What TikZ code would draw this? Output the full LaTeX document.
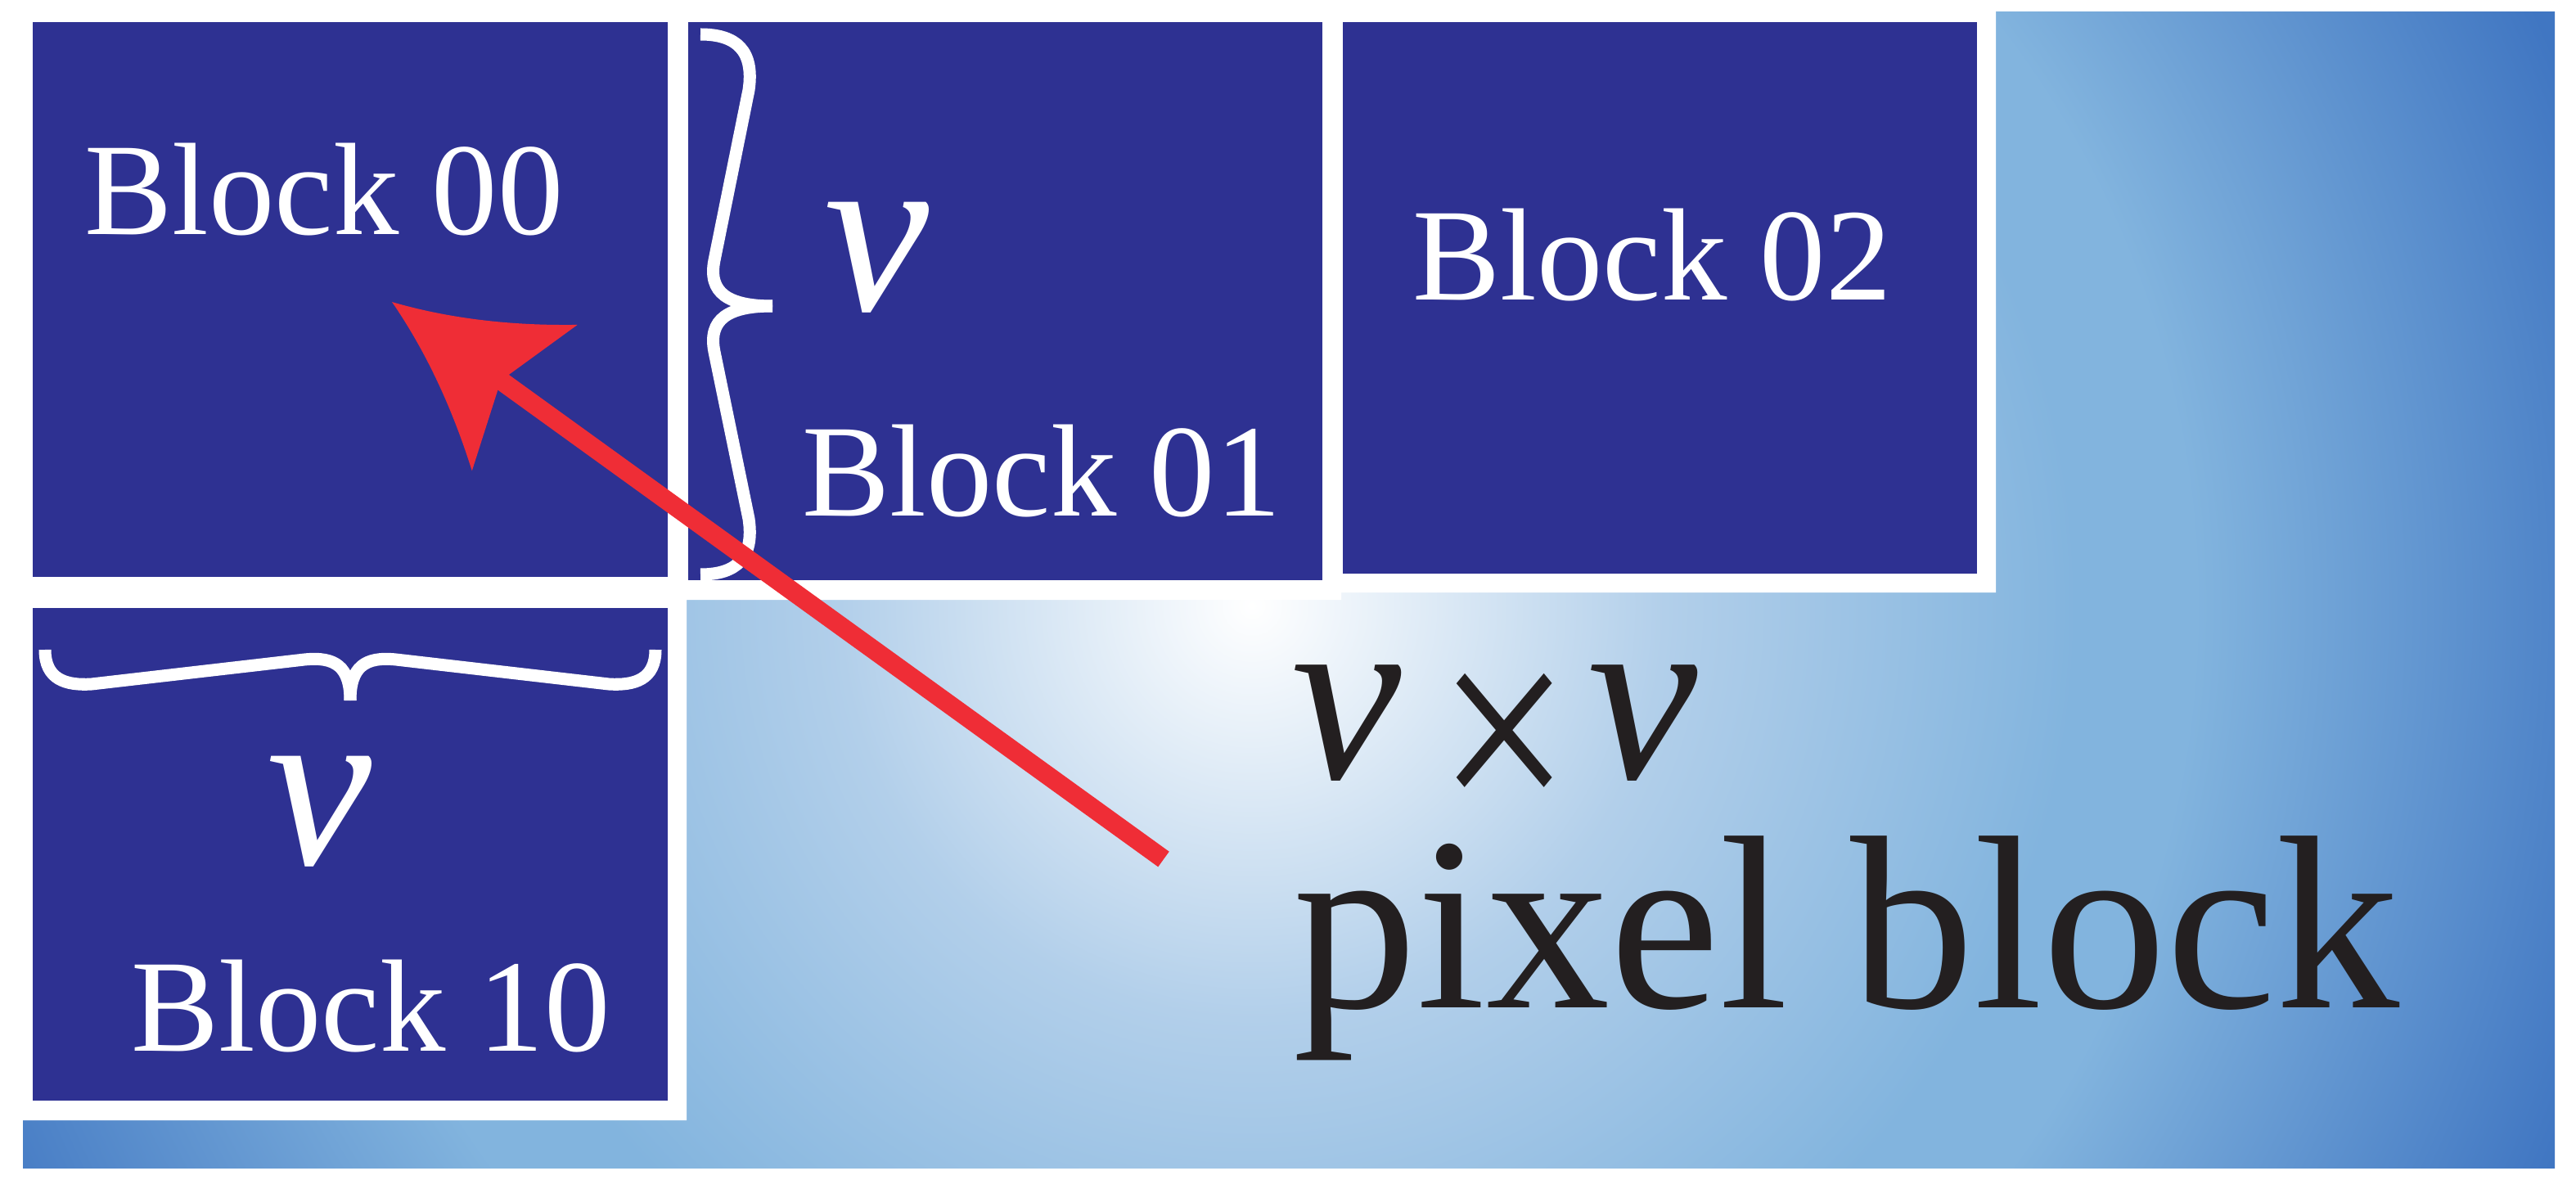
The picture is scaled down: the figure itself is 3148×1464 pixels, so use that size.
\documentclass[tikz,border=0pt]{standalone}
\usepackage{fontspec}
\setmainfont{Liberation Serif}
\usetikzlibrary{arrows.meta}

\definecolor{blockblue}{RGB}{46,49,146}
\definecolor{arrowred}{RGB}{239,45,54}
\definecolor{inkblack}{RGB}{35,31,32}
\definecolor{glowmid}{RGB}{178,207,234}
\definecolor{glowlight}{RGB}{130,180,222}
\definecolor{glowdark}{RGB}{64,118,194}

\pgfdeclareradialshading{glow}{\pgfpoint{0bp}{0bp}}{%
  color(0bp)=(white); color(7bp)=(glowmid); color(14bp)=(glowlight);
  color(16bp)=(glowlight); color(24bp)=(glowdark); color(50bp)=(glowdark)}

% curved barbed head of the red pointer
\pgfdeclarearrow{
  name = Barb,
  setup code = {
    \pgfarrowssettipend{0pt}
    \pgfarrowssetlineend{-1.5cm}
    \pgfarrowssetvisualbackend{-1.64cm}
    \pgfarrowssetbackend{-2cm}
    \pgfarrowshullpoint{0pt}{0pt}
    \pgfarrowshullpoint{-2cm}{1.1cm}
    \pgfarrowshullpoint{-2cm}{-1.1cm}
  },
  drawing code = {
    \pgfpathmoveto{\pgfpointorigin}
    \pgfpathcurveto{\pgfpoint{-0.667cm}{0.237cm}}{\pgfpoint{-1.333cm}{0.603cm}}{\pgfpoint{-2cm}{1.1cm}}
    \pgfpathlineto{\pgfpoint{-1.64cm}{0cm}}
    \pgfpathlineto{\pgfpoint{-2cm}{-1.1cm}}
    \pgfpathcurveto{\pgfpoint{-1.333cm}{-0.603cm}}{\pgfpoint{-0.667cm}{-0.237cm}}{\pgfpointorigin}
    \pgfpathclose
    \pgfusepathqfill
  }
}

\def\glowradius{1800}

\begin{document}
\begin{tikzpicture}[x=0.01cm,y=-0.01cm]
    \tikzstyle{block}=[rectangle,fill=blockblue,inner sep=0pt]
    \tikzstyle{blocklabel}=[text=white,anchor=base,inner sep=0pt,font=\fontsize{45.7}{50}\selectfont]
    \tikzstyle{vlabel}=[text=white,anchor=base,inner sep=0pt,font=\fontsize{82}{90}\selectfont\itshape]
    \tikzstyle{bigtext}=[text=inkblack,anchor=base west,inner sep=0pt,font=\fontsize{86}{90}\selectfont]
    \tikzstyle{widthbrace}=[draw=white,line width=0.15cm]
    \tikzstyle{pointer}=[draw=arrowred,line width=0.23cm,-{Barb}]

    \useasboundingbox[fill=white] (0,0) rectangle (3148,1464);

    % glow behind the blocks
    \begin{scope}
        \clip (28,15) rectangle (3122,1427);
        \shade[shading=glow] (1530,740) circle (\glowradius);
    \end{scope}
    \fill[white] (0,0) -- (2439,0) -- (2439,724) -- (1639,724) -- (1639,733)
        -- (839,733) -- (839,1369) -- (0,1369) -- cycle;

    \foreach \name / \cx / \cy / \w / \h in {00/428/366/776/678, 01/1228/368/775/682,
                                            02/2028/364/775/673, 10/428/1044/776/602}
        \node[block,minimum width=\w*0.01cm,minimum height=\h*0.01cm] (B-\name) at (\cx,\cy) {};
    \foreach \name / \cx / \by in {00/396/287, 01/1273/630, 02/2019/367, 10/453/1284}
        \node[blocklabel] (L-\name) at (\cx,\by) {Block \name};

    % braces, one half at a time
    \draw[widthbrace] (856,42) .. controls (900,42) and (922,62) .. (915,110) -- (873,318)
        .. controls (865,358) and (890,374) .. (944,374);
    \draw[widthbrace] (856,702) .. controls (900,702) and (922,682) .. (915,634) -- (873,430)
        .. controls (865,390) and (890,374) .. (944,374);
    \draw[widthbrace] (55,794) .. controls (55,830) and (80,838) .. (112,836) -- (372,806)
        .. controls (410,802) and (428,815) .. (428,856);
    \draw[widthbrace] (801,794) .. controls (801,830) and (776,838) .. (744,836) -- (484,806)
        .. controls (446,802) and (428,815) .. (428,856);
    \node[vlabel] (v-01) at (1071,380) {v};
    \node[vlabel] (v-10) at (390,1056) {v};

    \node[bigtext] (vv) at (1578,951) {\itshape v\kern0.45cm\upshape\smash{\raisebox{-0.55cm}{\scalebox{0.95}[1.13]{×}}}\kern0.2cm\itshape v};
    \node[bigtext] (pb) at (1580,1231) {pixel block};

    \coordinate (tail) at (1422,1050);
    \coordinate (aim) at (479,369);
    \draw[pointer] (tail) -- (aim);
\end{tikzpicture}
\end{document}
